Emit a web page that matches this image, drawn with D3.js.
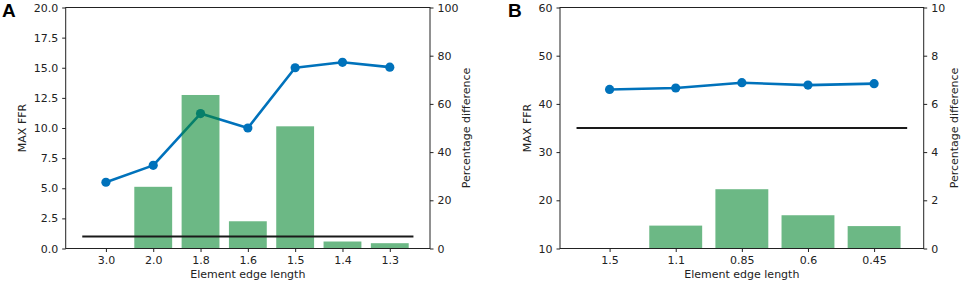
<!DOCTYPE html>
<html><head><meta charset="utf-8">
<script src="https://cdn.jsdelivr.net/npm/d3@7"></script>
<style>body{margin:0;background:#fff}svg{display:block}</style>
</head><body>
<svg id="c" width="962" height="285"></svg>
<script>
// Panel A data
const catsA = ["3.0","2.0","1.8","1.6","1.5","1.4","1.3"];
const ffrA = [5.5, 6.9, 11.2, 10.0, 15.0, 15.45, 15.05];
const pctA = [0, 25.6, 63.7, 11.3, 50.7, 2.9, 2.2];
const threshA = 5;
const leftTicksA = [0,2.5,5,7.5,10,12.5,15,17.5,20];
const rightTicksA = [0,20,40,60,80,100];
// Panel B data
const catsB = ["1.5","1.1","0.85","0.6","0.45"];
const ffrB = [43.0, 43.3, 44.4, 43.9, 44.2];
const pctB = [0, 0.95, 2.46, 1.38, 0.93];
const threshB = 5;
const leftTicksB = [10,20,30,40,50,60];
const rightTicksB = [0,2,4,6,8,10];

const svg = d3.select("#c");
const font = "DejaVu Sans, sans-serif";

function panel(o){
  const g = svg.append("g");
  const n = o.cats.length;
  const m = 0.05 * n; // 5% margin around [-0.5, n-0.5]
  const x = d3.scaleLinear().domain([-0.5 - m, n - 0.5 + m]).range([o.x0,o.x1]);
  const yL = d3.scaleLinear().domain(o.leftDom).range([o.y1,o.y0]);
  const yR = d3.scaleLinear().domain(o.rightDom).range([o.y1,o.y0]);
  const idx = d3.range(n);
  // line
  const line = d3.line().x(i=>x(i)).y(i=>yL(o.ffr[i]));
  g.append("path").datum(idx).attr("d",line).attr("fill","none")
    .attr("stroke","#0072bb").attr("stroke-width",2.6).attr("stroke-linejoin","round");
  g.selectAll("circle").data(idx).join("circle").attr("cx",i=>x(i)).attr("cy",i=>yL(o.ffr[i]))
    .attr("r",4.6).attr("fill","#0072bb");
  // bars
  g.selectAll("rect.bar").data(idx).join("rect").attr("class","bar")
    .attr("x",i=>x(i-0.4)).attr("width",x(0.8)-x(0))
    .attr("y",i=>yR(o.pct[i])).attr("height",i=>yR(0)-yR(o.pct[i]))
    .attr("fill","rgb(10,137,52)").attr("fill-opacity",0.6);
  // threshold
  g.append("line").attr("x1",x(-0.5)).attr("x2",x(n-0.5))
    .attr("y1",yR(o.thresh)).attr("y2",yR(o.thresh))
    .attr("stroke","#1a1a1a").attr("stroke-width",2);
  // axes
  const axB = d3.axisBottom(x).tickValues(idx).tickFormat(i=>o.cats[i]).tickSize(3.5).tickPadding(4);
  const axL = d3.axisLeft(yL).tickValues(o.leftTicks).tickFormat(o.leftFmt).tickSize(3.5).tickPadding(4);
  const axR = d3.axisRight(yR).tickValues(o.rightTicks).tickFormat(d3.format("d")).tickSize(3.5).tickPadding(4);
  const style = s => { s.selectAll("text").attr("font-family",font).attr("font-size",11).attr("fill","#222");
    s.selectAll("line").attr("stroke","#222"); s.select(".domain").remove(); };
  g.append("g").attr("transform",`translate(0,${o.y1})`).call(axB).call(style);
  g.append("g").attr("transform",`translate(${o.x0},0)`).call(axL).call(style);
  g.append("g").attr("transform",`translate(${o.x1},0)`).call(axR).call(style);
  g.append("rect").attr("x",o.x0).attr("y",o.y0).attr("width",o.x1-o.x0).attr("height",o.y1-o.y0)
    .attr("fill","none").attr("stroke","#222").attr("stroke-width",1);
  // labels
  g.append("text").attr("x",(o.x0+o.x1)/2).attr("y",278).attr("text-anchor","middle")
    .attr("font-family",font).attr("font-size",11).attr("fill","#222").text("Element edge length");
  g.append("text").attr("transform",`translate(${o.lx},${(o.y0+o.y1)/2}) rotate(-90)`).attr("text-anchor","middle")
    .attr("font-family",font).attr("font-size",11).attr("fill","#222").text("MAX FFR");
  g.append("text").attr("transform",`translate(${o.rx},${(o.y0+o.y1)/2}) rotate(-90)`).attr("text-anchor","middle")
    .attr("font-family",font).attr("font-size",11).attr("fill","#222").text("Percentage difference");
  g.append("text").attr("x",o.px).attr("y",17).attr("font-family","Liberation Sans, Arial, sans-serif")
    .attr("font-weight","bold").attr("font-size",19).attr("fill","#000").text(o.letter);
}

panel({cats:catsA, ffr:ffrA, pct:pctA, thresh:threshA, leftDom:[0,20], rightDom:[0,100],
  leftTicks:leftTicksA, rightTicks:rightTicksA, leftFmt:d3.format(".1f"),
  x0:65.7, x1:430, y0:7.5, y1:248.5, lx:26, rx:470, px:2, letter:"A"});
panel({cats:catsB, ffr:ffrB, pct:pctB, thresh:threshB, leftDom:[10,60], rightDom:[0,10],
  leftTicks:leftTicksB, rightTicks:rightTicksB, leftFmt:d3.format("d"),
  x0:560, x1:923.7, y0:7.5, y1:248.5, lx:531, rx:958, px:508, letter:"B"});
</script>
</body></html>
